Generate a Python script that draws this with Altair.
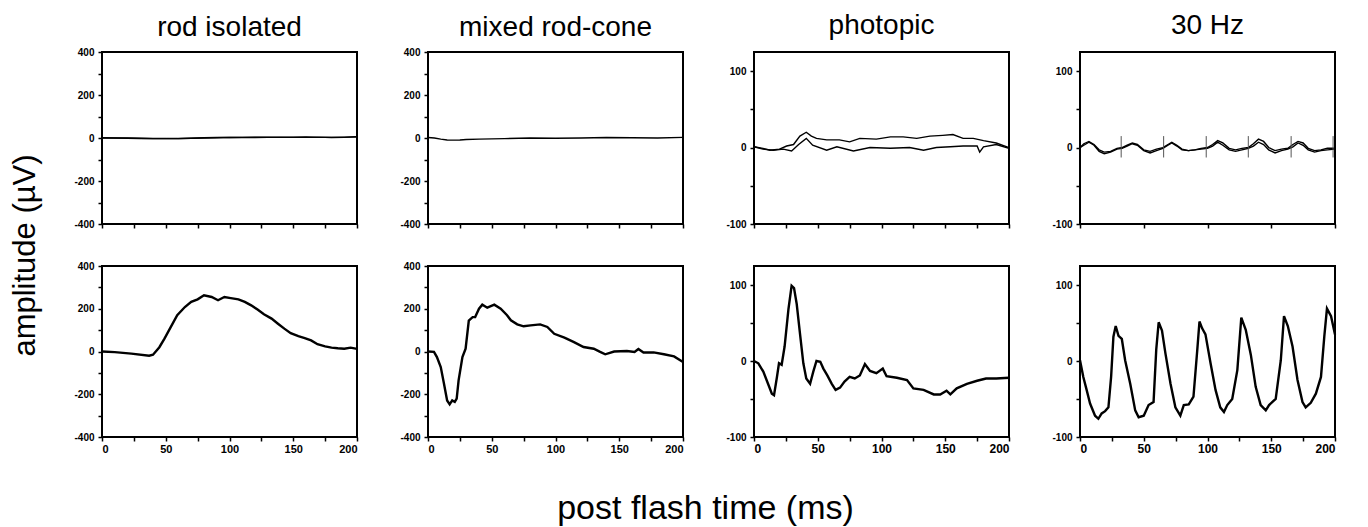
import altair as alt
import pandas as pd

FONT = "Liberation Sans"

# ---------------- data ----------------
# rod isolated - top (two overlapping near-flat traces)
rod_top_t = [0, 10, 20, 30, 40, 50, 60, 70, 80, 90, 100, 110, 120, 130, 140, 150, 160, 170, 180, 190, 200]
rod_top_a = [0, 0, -1, -2, -3, -3, -2, -1, 0, 1, 3, 2, 2, 3, 4, 3, 3, 4, 2, 3, 5]
rod_top_b = [1, 0, 0, -1, -2, -2, -3, -1, 1, 2, 2, 3, 4, 4, 3, 4, 5, 3, 3, 4, 6]

# rod isolated - bottom
rod_bot_t = [0, 10, 23, 37, 40, 45, 49, 54, 59, 65, 70, 75, 80, 86, 91, 96, 101, 107, 112, 117,
             122, 127, 133, 138, 143, 148, 154, 159, 164, 169, 175, 180, 185, 190, 195, 200]
rod_bot_v = [0, -3, -10, -20, -15, 20, 60, 115, 170, 208, 232, 244, 263, 255, 240, 255, 250, 244, 232, 216,
             196, 174, 154, 130, 107, 86, 72, 63, 52, 34, 24, 18, 15, 13, 18, 12]

# mixed rod-cone - top
mix_top_t = [0, 5, 10, 15, 20, 25, 30, 40, 50, 60, 80, 100, 120, 140, 160, 180, 200]
mix_top_v = [2, 0, -5, -9, -10, -9, -7, -5, -4, -3, 0, -1, 0, 2, 1, 0, 3]

# mixed rod-cone - bottom
mix_bot_t = [0, 4.7, 7, 10, 12.5, 15, 17, 19, 21, 22.5, 24, 27, 29.5, 32, 35, 37, 40, 42.6, 46.5, 52,
             57, 62, 65, 70, 75, 80.5, 88, 93.6, 99, 107, 114.5, 122, 130, 135, 139, 146, 156, 162, 165, 169,
             177, 185, 193, 200]
mix_bot_v = [0, -2, -26, -73, -150, -229, -247, -229, -236, -220, -135, -26, 13, 145, 161, 161, 200, 219, 205, 219,
             200, 170, 146, 127, 118, 122, 127, 115, 83, 65, 44, 21, 13, -2, -13, 0, 2, -2, 12, -5,
             -4, -13, -23, -49]

# photopic - top (two traces)
pho_top_ta = [0, 7, 12.5, 20, 25.6, 31, 36, 41, 45, 49, 57, 67, 75, 83, 96, 107, 117, 127.6, 138, 148,
              156, 164, 172, 180, 190, 200]
pho_top_a = [1, -1, -3.5, -2, 2, 4, 15, 20, 15, 12, 10, 10, 7.5, 12, 11, 14, 14, 12, 15, 16,
             17, 12, 12, 9, 6, 0]
pho_top_tb = [0, 7, 15, 23, 29.5, 35, 41, 46, 57, 65, 78, 91, 107, 122, 133, 143, 154, 164, 175, 177,
              180, 190, 200]
pho_top_b = [1, -2, -3.5, -2, -4.5, 4, 12, 3, -3.5, 1, -4.5, 0, -1, 0, -3.5, 0, 1, 2, 2, -6,
             1, 4, -1]

# photopic - bottom
pho_bot_t = [0, 3.4, 7.3, 11, 14, 15.7, 18, 19.6, 21.7, 24, 27, 29.5, 31.4, 33.5, 36, 38.7, 41, 44, 46.5, 49,
             52, 54.4, 57.5, 61, 64, 67.5, 71, 75, 79, 83, 87, 91, 96, 101, 104, 112, 120, 125, 133, 141,
             146, 151, 154, 159, 167, 175, 182, 190, 200]
pho_bot_v = [0, -3, -14, -30, -43, -45, -21, -3, -5, 19, 68, 99, 96, 75, 37, -3, -23, -30, -14, 0,
             -1, -10, -19, -30, -38, -35, -27, -21, -23, -19, -4, -13, -16, -10, -20, -22, -25, -36, -38, -44,
             -44, -39, -44, -36, -30, -26, -23, -23, -22]

# 30 Hz - top (two traces) and flash markers
fl_top_t = [0, 3, 7, 11, 15, 19, 24, 29, 33, 37, 41, 45, 50, 55, 60, 65, 69, 72, 76, 80,
            85, 90, 95, 100, 104, 108, 112, 117, 122, 127, 132, 136, 140, 144, 148, 153, 158, 163, 167, 171,
            175, 179, 184, 189, 194, 200]
fl_top_a = [0, 5, 8, 4, -3, -6, -5, -1, 0, 3, 6, 4, -3, -5, -2, 0, 4, 7, 3, -2,
            -4, -3, -1, 0, 4, 9, 6, -1, -3, -1, 0, 5, 11, 8, 0, -4, -2, -1, 4, 8,
            6, -1, -4, -3, -1, -1]
fl_top_b = [0, 3, 7, 3, -5, -8, -6, -2, -1, 2, 5, 3, -4, -7, -4, -1, 3, 6, 2, -3,
            -4, -3, -2, -1, 2, 7, 3, -3, -5, -3, -1, 2, 7, 4, -3, -7, -4, -2, 1, 6,
            3, -3, -6, -4, -3, -2]
flash_t = [32.3, 65.6, 99, 132, 165.6, 198.5]
flash_lo = [-13, -13, -13, -13, -13, -13]
flash_hi = [15, 15, 15, 15, 15, 15]

# 30 Hz - bottom
fl_bot_t = [0, 2.6, 5.2, 7.9, 11.8, 14.4, 17, 19.7, 22.3, 24.4, 26.2, 28, 30.2, 32.8, 35.4, 39.4, 43.3, 46, 50, 53.8,
            57.7, 59.8, 61.7, 64.3, 67, 71, 74.8, 78.7, 81.4, 85.3, 89, 92, 93.7, 95.8, 98.4, 102.4, 106.3, 110, 112.9, 115.5,
            119.4, 123.4, 126.5, 130, 134, 137.8, 141.7, 145.7, 148.3, 153.5, 157.5, 160, 163, 166.7, 170.6, 174.5, 177, 181, 185, 189,
            191.6, 193.7, 196.9, 200]
fl_bot_v = [1, -21, -38, -56, -72, -76, -69, -66, -61, -21, 32, 46, 33, 29, 1, -30, -65, -74, -72, -58,
            -54, 15, 51, 40, 10, -30, -61, -72, -58, -57, -47, 15, 52, 43, 35, -3, -38, -61, -67, -58,
            -50, -12, 57, 41, 8, -34, -58, -65, -58, -50, 1, 59, 46, 19, -25, -54, -61, -55, -43, -21,
            32, 69, 59, 35]

titles = ["rod isolated", "mixed rod-cone", "photopic", "30 Hz"]
y_title = "amplitude (µV)"
x_title = "post flash time (ms)"
x_ticks = [0, 25, 50, 75, 100, 125, 150, 175, 200]
big_ticks = [-400, -300, -200, -100, 0, 100, 200, 300, 400]
small_ticks = [-100, -50, 0, 50, 100]


def frame(t, v, name):
    return pd.DataFrame({"t": t, "v": v, "s": name})


def panel(dfs, ydom, yvals, ymajor, top, title=None, title_offset=8, lw=1.4, xlab=11, rules=None,
          ytitle=False, xtitle=False):
    data = pd.concat(dfs, ignore_index=True)
    h = 172 if top else 171
    xkw = dict(
        values=x_ticks,
        labels=not top,
        labelExpr="datum.value % 50 === 0 ? toString(datum.value) : ''",
        labelFontSize=xlab,
        labelPadding=2,
        tickSize=4,
        title=None,
    )
    if xtitle:
        xkw.update(title=x_title, titleFontSize=34, titleFont=FONT, titleFontWeight="normal",
                   titleColor="black", titleX=277, titleY=81, titleBaseline="alphabetic",
                   titleAlign="center")
    ykw = dict(
        values=yvals,
        labelExpr="datum.value %% %d === 0 ? toString(datum.value) : ''" % ymajor,
        labelFontSize=10,
        labelPadding=4,
        tickSize=4,
        title=None,
    )
    if ytitle:
        ykw.update(title=y_title, titleFontSize=31, titleFont=FONT, titleFontWeight="normal",
                   titleColor="black", titleX=-68, titleY=203, titleBaseline="alphabetic",
                   titleAlign="center", titleAngle=270)
    base = alt.Chart(data).mark_line(color="black", strokeWidth=lw).encode(
        x=alt.X("t:Q", scale=alt.Scale(domain=[0, 200], nice=False, zero=False), axis=alt.Axis(**xkw)),
        y=alt.Y("v:Q", scale=alt.Scale(domain=ydom, nice=False, zero=False), axis=alt.Axis(**ykw)),
        detail="s:N",
    )
    layers = [base]
    if rules is not None:
        r = alt.Chart(rules).mark_rule(color="#555555", strokeWidth=1).encode(
            x="t:Q", y="lo:Q", y2="hi:Q"
        )
        layers.append(r)
    ch = alt.layer(*layers).properties(width=255, height=h)
    if title:
        ch = ch.properties(title=alt.TitleParams(
            title, fontSize=28, font=FONT, fontWeight="normal", offset=title_offset,
            frame="group", anchor="middle", color="black"))
    return ch


flash_df = pd.DataFrame({"t": flash_t, "lo": flash_lo, "hi": flash_hi})

panels = [
    panel([frame(rod_top_t, rod_top_a, "a"), frame(rod_top_t, rod_top_b, "b")], [-400, 400], big_ticks, 200, True,
          titles[0], title_offset=5, ytitle=True),
    panel([frame(mix_top_t, mix_top_v, "a")], [-400, 400], big_ticks, 200, True, titles[1], title_offset=5),
    panel([frame(pho_top_ta, pho_top_a, "a"), frame(pho_top_tb, pho_top_b, "b")], [-100, 125], small_ticks, 100, True,
          titles[2], title_offset=12),
    panel([frame(fl_top_t, fl_top_a, "a"), frame(fl_top_t, fl_top_b, "b")], [-100, 125], small_ticks, 100, True,
          titles[3], title_offset=12, rules=flash_df),
    panel([frame(rod_bot_t, rod_bot_v, "a")], [-400, 400], big_ticks, 200, False, lw=2.4, xlab=11),
    panel([frame(mix_bot_t, mix_bot_v, "a")], [-400, 400], big_ticks, 200, False, lw=2.4, xlab=11, xtitle=True),
    panel([frame(pho_bot_t, pho_bot_v, "a")], [-100, 125], small_ticks, 100, False, lw=2.4, xlab=12),
    panel([frame(fl_bot_t, fl_bot_v, "a")], [-100, 125], small_ticks, 100, False, lw=2.4, xlab=12),
]

chart = alt.concat(*panels, columns=4, spacing={"row": 42, "column": 71}, bounds="flush").properties(
    padding={"left": 0, "top": 3, "right": 5, "bottom": 0},
    background="white",
).configure_view(
    stroke="black", strokeWidth=2
).configure_axis(
    domain=False, grid=False, tickColor="black", tickWidth=1.5,
    labelFont=FONT, labelFontWeight="bold", labelColor="black",
)

chart.save("out.html", embed_options={"renderer": "svg", "actions": False})
